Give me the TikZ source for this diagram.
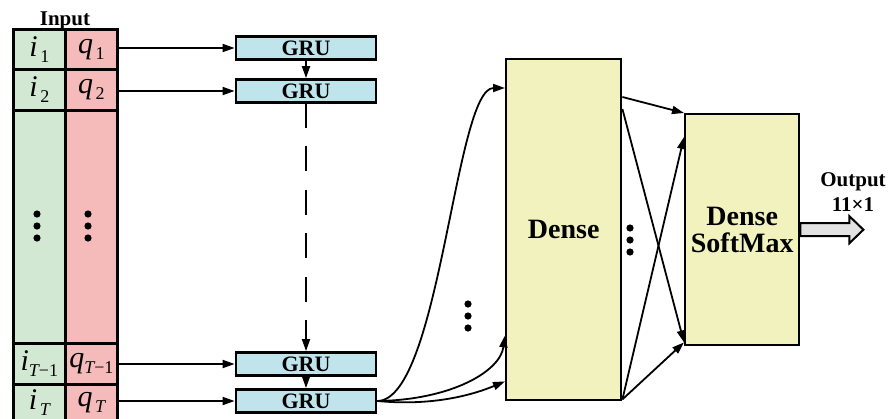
\documentclass[tikz,border=0pt]{standalone}
\usepackage{fontspec}
\setmainfont{Liberation Serif}
\usetikzlibrary{arrows.meta,calc}

\definecolor{cellgreen}{HTML}{D2E8D2}
\definecolor{cellpink}{HTML}{F5BABA}
\definecolor{grublue}{HTML}{C0E4EC}
\definecolor{denseyellow}{HTML}{F2F2BE}
\definecolor{outgray}{HTML}{E2E2E2}

% variable with a spaced, lowered subscript
\newcommand\varsub[2]{#1\kern2.5pt\raisebox{-6pt}{\fontsize{18}{18}\selectfont\upshape #2}}
% variable with a tight subscript T-1
\newcommand\varprev[1]{#1\raisebox{-6pt}{\fontsize{18}{18}\selectfont\itshape T\upshape −1}}

\tikzset{
  cell/.style={draw, line width=2.8pt, anchor=north west, inner sep=0pt,
    minimum width=52pt, font=\fontsize{30}{30}\selectfont\itshape},
  gcell/.style={cell, fill=cellgreen},
  pcell/.style={cell, fill=cellpink},
  grubox/.style={draw, line width=2.8pt, fill=grublue, minimum width=140pt,
    minimum height=23pt, inner sep=0pt, font=\fontsize{22}{22}\selectfont\bfseries},
  layerbox/.style={draw, line width=2.4pt, fill=denseyellow, inner sep=0pt,
    anchor=north west, align=center, font=\fontsize{28}{27}\selectfont\bfseries},
  tip/.style={-{Triangle[length=12pt,width=8pt]}},
  conn/.style={line width=1.8pt, tip},
  lbl/.style={font=\fontsize{21}{25}\selectfont\bfseries, align=center, inner sep=0pt},
}

\begin{document}
\begin{tikzpicture}[x=1pt, y=-1pt]
  \clip (0,0) rectangle (888,418);

  % input sequence table
  \node[lbl, anchor=base] (inlabel) at (65,25) {Input};
  \node[gcell, minimum height=40pt]  (i1)  at (12,28)  {\varsub{i}{1}};
  \node[pcell, minimum height=40pt]  (q1)  at (64,28)  {\varsub{q}{1}};
  \node[gcell, minimum height=41pt]  (i2)  at (12,68)  {\varsub{i}{2}};
  \node[pcell, minimum height=41pt]  (q2)  at (64,68)  {\varsub{q}{2}};
  \node[gcell, minimum height=233pt] (im)  at (12,109) {};
  \node[pcell, minimum height=233pt] (qm)  at (64,109) {};
  \node[gcell, minimum height=41pt]  (iT1) at (12,342) {\varprev{i}};
  \node[pcell, minimum height=41pt]  (qT1) at (64,342) {\varprev{q}};
  \node[gcell, minimum height=42pt]  (iT)  at (12,383) {\raisebox{12pt}{\varsub{i}{\itshape T}}};
  \node[pcell, minimum height=42pt]  (qT)  at (64,383) {\raisebox{12pt}{\varsub{q}{\itshape T}}};

  % recurrent layer
  \node[grubox] (g1)  at (306,48)  {GRU};
  \node[grubox] (g2)  at (306,91)  {GRU};
  \node[grubox] (gT1) at (306,364) {GRU};
  \node[grubox] (gT)  at (306,401) {GRU};

  \draw[conn] (q1.east |- g1.west) -- (g1.west);
  \draw[conn] (q2.east |- g2.west) -- (g2.west);
  \draw[conn] (qT1.east |- gT1.west) -- (gT1.west);
  \draw[conn] (qT.east |- gT.west) -- (gT.west);

  \draw[conn] (g1.south) -- (g2.north);
  \draw[conn, dash pattern=on 25pt off 18.5pt, dash phase=1pt] (g2.south) -- (gT1.north);
  \draw[conn] (gT1.south) -- (gT.north);

  % dense layers
  \node[layerbox, minimum width=115pt, minimum height=341pt] (dn) at (505,58) {Dense};
  \node[layerbox, minimum width=114pt, minimum height=231pt] (sm) at (684,113) {Dense\\SoftMax};

  \coordinate (din1) at ($(dn.north west)+(0,30)$);
  \coordinate (din2) at ($(dn.south west)+(0,-66)$);
  \coordinate (din3) at ($(dn.south west)+(0,-20)$);
  \draw[conn] (gT.east) .. controls (440,400) and (455,88) .. (din1);
  \draw[conn] (gT.east) .. controls (450,400) and (500,372) .. (din2);
  \draw[conn] (gT.east) .. controls (430,406) and (470,396) .. (din3);

  \coordinate (dout1) at ($(dn.north east)+(0,39)$);
  \coordinate (dout2) at ($(dn.north east)+(0,51)$);
  \coordinate (dout3) at ($(dn.south east)+(0,-2)$);
  \coordinate (sin1) at (sm.north west);
  \coordinate (sin2) at ($(sm.north west)+(0,24)$);
  \coordinate (sin3) at ($(sm.south west)+(0,-4)$);
  \draw[conn] (dout1) -- (sin1);
  \draw[conn] (dout2) -- (sin3);
  \draw[conn] (dout3) -- (sin2);
  \draw[conn] (dout3) -- (sin3);

  % output arrow and label
  \draw[line width=2pt, fill=outgray, line join=miter]
    ($(sm.east)+(0,-6.5)$) -- ++(49,0) -- ++(0,-7) -- ++(14,13.5)
    -- ++(-14,13.5) -- ++(0,-7) -- ++(-49,0) -- cycle;
  \node[lbl] (outlabel) at (853,192) {Output\\11×1};

  % ellipsis dots
  \foreach \cx/\cy in {37/226, 88/226, 468/316, 630/240}
    \foreach \d in {-12,0,12}
      \fill (\cx,\cy+\d) circle (3.6pt);
\end{tikzpicture}
\end{document}
